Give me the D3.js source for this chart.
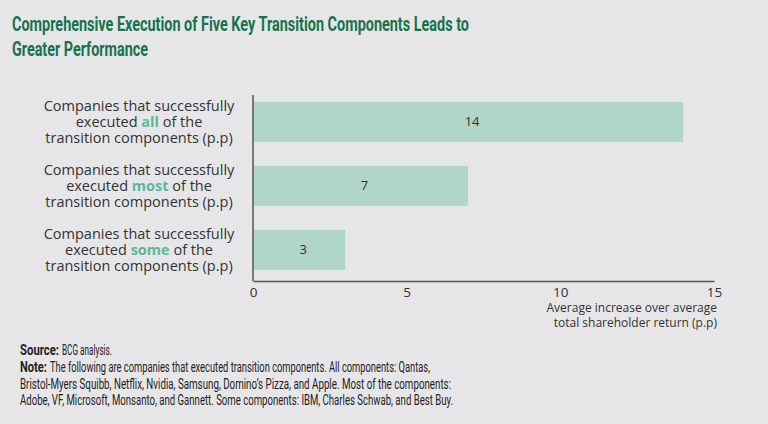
<!DOCTYPE html>
<html>
<head>
<meta charset="utf-8">
<script src="https://cdn.jsdelivr.net/npm/d3@7"></script>
<style>
  body { margin: 0; background: #e6e6e8; }
  svg { display: block; font-family: "Open Sans", sans-serif; }
</style>
</head>
<body>
<svg id="chart"></svg>
<script>
const svgWidth = 768;
const svgHeight = 424;

// chart data
const categories = ["all", "most", "some"];
const values = [14, 7, 3];
const xTicks = [0, 5, 10, 15];

const titleLines = [
  "Comprehensive Execution of Five Key Transition Components Leads to",
  "Greater Performance"
];
const axisTitle = ["Average increase over average", "total shareholder return (p.p)"];
const noteLines = [
  "The following are companies that executed transition components. All components: Qantas,",
  "Bristol-Myers Squibb, Netflix, Nvidia, Samsung, Domino\u2019s Pizza, and Apple. Most of the components:",
  "Adobe, VF, Microsoft, Monsanto, and Gannett. Some components: IBM, Charles Schwab, and Best Buy."
];

const green = "#17734d";
const barColor = "#b0d5c9";
const accent = "#5db898";
const textColor = "#333";

const svg = d3.select("#chart")
  .attr("width", svgWidth)
  .attr("height", svgHeight);

svg.append("rect")
  .attr("width", svgWidth)
  .attr("height", svgHeight)
  .attr("fill", "#e6e6e8");

// title
svg.append("g").selectAll("text")
  .data(titleLines)
  .enter()
  .append("text")
  .attr("x", 12)
  .attr("y", (d, i) => 31 + i * 25)
  .attr("fill", green)
  .style("font-family", "Roboto, sans-serif")
  .style("font-weight", "bold")
  .style("font-size", "19.5px")
  .attr("textLength", (d, i) => i === 0 ? 457 : 136)
  .attr("lengthAdjust", "spacingAndGlyphs")
  .text(d => d);

// scales
const x = d3.scaleLinear()
  .domain([0, 15])
  .range([253, 714]);

const y = d3.scaleBand()
  .domain(categories)
  .range([98, 273.6])
  .paddingInner(0.375)
  .paddingOuter(0.06);

// bars
svg.append("g").selectAll("rect")
  .data(categories)
  .enter()
  .append("rect")
  .attr("x", x(0))
  .attr("y", d => y(d))
  .attr("width", (d, i) => x(values[i]) - x(0))
  .attr("height", y.bandwidth())
  .attr("fill", barColor);

// value labels
svg.append("g").selectAll("text")
  .data(categories)
  .enter()
  .append("text")
  .attr("x", (d, i) => (x(0) + x(values[i])) / 2 + 4)
  .attr("y", d => y(d) + y.bandwidth() / 2)
  .attr("dy", "0.35em")
  .attr("text-anchor", "middle")
  .attr("fill", textColor)
  .style("font-size", "13px")
  .text((d, i) => values[i]);

// category labels, three lines each
const labelLines = svg.append("g")
  .attr("fill", textColor)
  .style("font-size", "14.5px")
  .attr("text-anchor", "middle");

categories.forEach(d => {
  const cy = y(d) + y.bandwidth() / 2;
  labelLines.append("text").attr("x", 139).attr("y", cy - 16).attr("dy", "0.35em")
    .text("Companies that successfully");
  const l2 = labelLines.append("text").attr("x", 139).attr("y", cy).attr("dy", "0.35em");
  l2.append("tspan").text("executed ");
  l2.append("tspan").attr("fill", accent).style("font-weight", "bold").text(d);
  l2.append("tspan").text(" of the");
  labelLines.append("text").attr("x", 139).attr("y", cy + 16).attr("dy", "0.35em")
    .text("transition components (p.p)");
});

// x axis
const xAxis = d3.axisBottom(x)
  .tickValues(xTicks)
  .tickSize(0)
  .tickPadding(6);

const gx = svg.append("g")
  .attr("transform", "translate(0,281)")
  .call(xAxis);
gx.select(".domain").attr("stroke", "#555").attr("stroke-width", 1.5);
gx.selectAll("text")
  .attr("fill", textColor)
  .style("font-family", "'Open Sans', sans-serif")
  .style("font-size", "13.5px");

// y axis line
svg.append("line")
  .attr("x1", x(0)).attr("x2", x(0))
  .attr("y1", 95).attr("y2", 281)
  .attr("stroke", "#555")
  .attr("stroke-width", 1.5);

// axis title
svg.append("g").selectAll("text")
  .data(axisTitle)
  .enter()
  .append("text")
  .attr("x", 717)
  .attr("y", (d, i) => 312 + i * 15)
  .attr("text-anchor", "end")
  .attr("fill", textColor)
  .style("font-size", "12px")
  .text(d => d);

// footer
const footer = svg.append("g")
  .style("font-family", "Roboto, sans-serif")
  .style("font-size", "14px")
  .attr("fill", "#222");

footer.append("text")
  .attr("x", 20).attr("y", 355)
  .style("font-weight", "bold")
  .attr("textLength", 39)
  .attr("lengthAdjust", "spacingAndGlyphs")
  .text("Source:");
footer.append("text")
  .attr("x", 62).attr("y", 355)
  .attr("textLength", 50)
  .attr("lengthAdjust", "spacingAndGlyphs")
  .text("BCG analysis.");

footer.append("text")
  .attr("x", 20).attr("y", 372)
  .style("font-weight", "bold")
  .attr("textLength", 27)
  .attr("lengthAdjust", "spacingAndGlyphs")
  .text("Note:");

const noteStarts = [50, 20, 20];
const noteEnds = [430, 451, 453];
footer.selectAll(".note")
  .data(noteLines)
  .enter()
  .append("text")
  .attr("class", "note")
  .attr("x", (d, i) => noteStarts[i])
  .attr("y", (d, i) => 372 + i * 16.5)
  .attr("textLength", (d, i) => noteEnds[i] - noteStarts[i])
  .attr("lengthAdjust", "spacingAndGlyphs")
  .text(d => d);
</script>
</body>
</html>
